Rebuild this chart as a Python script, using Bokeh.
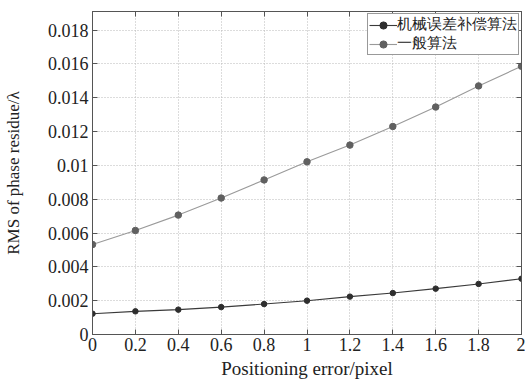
from bokeh.plotting import figure
from bokeh.models import FixedTicker, LinearAxis, Range1d, CustomJSTickFormatter
from bokeh.embed import file_html
from bokeh.resources import INLINE

x_vals = [0, 0.2, 0.4, 0.6, 0.8, 1.0, 1.2, 1.4, 1.6, 1.8, 2.0]
comp_vals = [0.00123, 0.00137, 0.00147, 0.00162, 0.0018, 0.002, 0.00224, 0.00245, 0.00271, 0.00299, 0.0033]
general_vals = [0.00532, 0.00615, 0.00706, 0.00807, 0.00914, 0.01021, 0.0112, 0.0123, 0.01345, 0.0147, 0.01586]
series_names = ["机械误差补偿算法", "一般算法"]
x_ticks = [0, 0.2, 0.4, 0.6, 0.8, 1.0, 1.2, 1.4, 1.6, 1.8, 2.0]
x_labels = ["0", "0.2", "0.4", "0.6", "0.8", "1", "1.2", "1.4", "1.6", "1.8", "2"]
y_ticks = [0, 0.002, 0.004, 0.006, 0.008, 0.01, 0.012, 0.014, 0.016, 0.018]
y_labels = ["0", "0.002", "0.004", "0.006", "0.008", "0.01", "0.012", "0.014", "0.016", "0.018"]

FONT = "Liberation Serif"

p = figure(width=525, height=383, output_backend="svg", toolbar_location=None,
           x_range=Range1d(0, 2), y_range=Range1d(0, 0.0191),
           min_border_left=92, min_border_right=4, min_border_top=11, min_border_bottom=49)
p.outline_line_color = "#555555"
p.outline_line_width = 1

def label_formatter(tk, lb):
    return CustomJSTickFormatter(args=dict(tk=tk, lb=lb), code="""
        let best = 0, d = Infinity;
        for (let i = 0; i < tk.length; i++) {
            const e = Math.abs(tk[i] - tick);
            if (e < d) { d = e; best = i; }
        }
        return lb[best];
    """)

p.xaxis.ticker = FixedTicker(ticks=x_ticks)
p.yaxis.ticker = FixedTicker(ticks=y_ticks)
p.xaxis.formatter = label_formatter(x_ticks, x_labels)
p.yaxis.formatter = label_formatter(y_ticks, y_labels)

for axes in (p.xaxis, p.yaxis):
    axes.major_label_text_font = FONT
    axes.major_label_text_font_size = "18px"
    axes.major_label_text_color = "#222222"
    axes.axis_label_text_font = FONT
    axes.axis_label_text_font_style = "normal"
    axes.axis_label_text_color = "#222222"
    axes.major_tick_in = 5
    axes.major_tick_out = 0
    axes.minor_tick_line_color = None
    axes.axis_line_color = "#555555"
    axes.major_tick_line_color = "#555555"

p.xaxis.axis_label = "Positioning error/pixel"
p.yaxis.axis_label = "RMS of phase residue/λ"
p.xaxis.axis_label_text_font_size = "19px"
p.yaxis.axis_label_text_font_size = "17px"
p.xaxis.major_label_standoff = 3
p.yaxis.major_label_standoff = 4
p.xaxis.axis_label_standoff = 4
p.yaxis.axis_label_standoff = 22

for loc, ticks in (("right", y_ticks), ("above", x_ticks)):
    ax = LinearAxis(ticker=FixedTicker(ticks=ticks),
                    formatter=CustomJSTickFormatter(code="return ''"),
                    major_label_standoff=0,
                    major_tick_in=5, major_tick_out=0, minor_tick_line_color=None,
                    axis_line_color="#555555", major_tick_line_color="#555555")
    p.add_layout(ax, loc)

p.xgrid.ticker = FixedTicker(ticks=x_ticks)
p.ygrid.ticker = FixedTicker(ticks=y_ticks)
p.grid.grid_line_color = "#b8b8b8"
p.grid.grid_line_dash = "1 2"
p.grid.grid_line_width = 1

p.line(x_vals, comp_vals, line_color="#3a3a3a", line_width=1.1, legend_label=series_names[0])
p.scatter(x_vals, comp_vals, size=5.5, fill_color="#2e2e2e", line_color="#2e2e2e", legend_label=series_names[0])
p.line(x_vals, general_vals, line_color="#9a9a9a", line_width=1.1, legend_label=series_names[1])
p.scatter(x_vals, general_vals, size=6.5, fill_color="#606060", line_color="#606060", legend_label=series_names[1])

lg = p.legend[0]
lg.location = "top_right"
lg.label_text_font = FONT
lg.label_text_font_size = "15px"
lg.label_text_color = "#222222"
lg.border_line_color = "#333333"
lg.border_line_width = 1
lg.margin = 2
lg.padding = 1
lg.spacing = 0
lg.glyph_width = 28
lg.glyph_height = 18
lg.label_standoff = 0
lg.label_height = 18
lg.background_fill_alpha = 1

open("out.html", "w").write(file_html(p, INLINE))
